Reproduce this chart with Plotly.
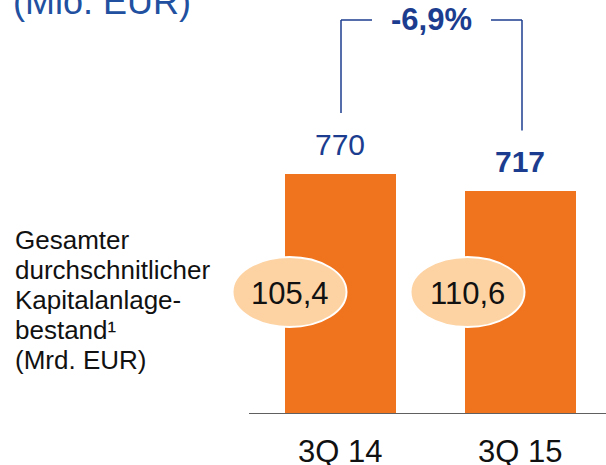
import plotly.graph_objects as go

categories = ["3Q 14", "3Q 15"]
values = [770, 717]
value_labels = ["770", "<b>717</b>"]
bubble_labels = ["105,4", "110,6"]
change_label = "<b>-6,9%</b>"
side_lines = ["Gesamter", "durchschnitlicher", "Kapitalanlage-", "bestand¹", "(Mrd. EUR)"]
unit_title = "(Mio. EUR)"

W, H = 606, 465
BLUE = "#1c3d8f"
ORANGE = "#f0731e"
FONT = "Liberation Sans, Arial, sans-serif"

xpos = [0, 1]
ppu = 180.0
x_lo = -340 / ppu
x_hi = 1 + (W - 520) / ppu
plot_h = 414
units_per_px = 3.21
y_hi = plot_h * units_per_px


def px_x(p):
    return (p - 340) / ppu


def px_y(p):
    return (plot_h - p) * units_per_px


def paper_y(p):
    return (plot_h - p) / plot_h


fig = go.Figure()
fig.add_trace(go.Bar(x=xpos, y=values, marker=dict(color=ORANGE, line=dict(width=0)),
                     width=111 / ppu, hoverinfo="skip"))

shapes = []
annotations = []

# baseline axis
shapes.append(dict(type="line", xref="x", yref="y", x0=px_x(249), x1=x_hi, y0=0, y1=0,
                   line=dict(color="#606060", width=2)))

# bubbles
bubble_cx = [289.5, 467.5]
for cx, lab in zip(bubble_cx, bubble_labels):
    shapes.append(dict(type="circle", xref="x", yref="y",
                       x0=px_x(cx - 57), x1=px_x(cx + 57),
                       y0=px_y(292 + 35), y1=px_y(292 - 35),
                       fillcolor="#fdd3a4", line=dict(color="white", width=2), layer="above"))
    annotations.append(dict(x=px_x(cx), y=paper_y(293), xref="x", yref="paper", text=lab,
                            showarrow=False, font=dict(size=31, color="#111111", family=FONT),
                            xanchor="center", yanchor="middle"))

# value labels
for x, v, lab, s in zip(xpos, values, value_labels, [30, 29]):
    annotations.append(dict(x=x, y=v, xref="x", yref="y", text=lab, showarrow=False,
                            font=dict(size=30, color=BLUE, family=FONT),
                            xanchor="center", yanchor="middle", yshift=s))

# bracket
top_y = px_y(20)
lx = px_x(341)
rx = px_x(522)
shapes.append(dict(type="line", xref="x", yref="y", x0=lx, x1=lx, y0=values[0] + 196, y1=top_y,
                   line=dict(color=BLUE, width=1.5)))
shapes.append(dict(type="line", xref="x", yref="y", x0=lx, x1=px_x(372), y0=top_y, y1=top_y,
                   line=dict(color=BLUE, width=1.5)))
shapes.append(dict(type="line", xref="x", yref="y", x0=rx, x1=rx, y0=values[1] + 193, y1=top_y,
                   line=dict(color=BLUE, width=1.5)))
shapes.append(dict(type="line", xref="x", yref="y", x0=px_x(491), x1=rx, y0=top_y, y1=top_y,
                   line=dict(color=BLUE, width=1.5)))
annotations.append(dict(x=px_x(431.5), y=paper_y(19.5), xref="x", yref="paper", text=change_label,
                        showarrow=False, font=dict(size=31, color=BLUE, family=FONT),
                        xanchor="center", yanchor="middle"))

# category labels
for x, c in zip(xpos, categories):
    annotations.append(dict(x=x, y=paper_y(451), xref="x", yref="paper", text=c, showarrow=False,
                            font=dict(size=31, color="#111111", family=FONT),
                            xanchor="center", yanchor="middle"))

# side text
for i, t in enumerate(side_lines):
    annotations.append(dict(x=px_x(13), y=paper_y(240 + 30 * i), xref="x", yref="paper", text=t,
                            showarrow=False, font=dict(size=26, color="#111111", family=FONT),
                            xanchor="left", yanchor="middle"))

# title (clipped at top)
annotations.append(dict(x=px_x(11), y=paper_y(1), xref="x", yref="paper", text=unit_title,
                        showarrow=False, font=dict(size=36, color="#2150a0", family=FONT),
                        xanchor="left", yanchor="middle"))

fig.update_layout(
    width=W, height=H,
    margin=dict(l=0, r=0, t=0, b=H - plot_h),
    paper_bgcolor="white", plot_bgcolor="white",
    showlegend=False,
    xaxis=dict(range=[x_lo, x_hi], visible=False, fixedrange=True),
    yaxis=dict(range=[0, y_hi], visible=False, fixedrange=True),
    shapes=shapes, annotations=annotations,
    bargap=0,
)

fig.write_html("out.html", config={"displayModeBar": False},
               post_script="document.body.style.margin='0';document.body.style.overflow='hidden';")
